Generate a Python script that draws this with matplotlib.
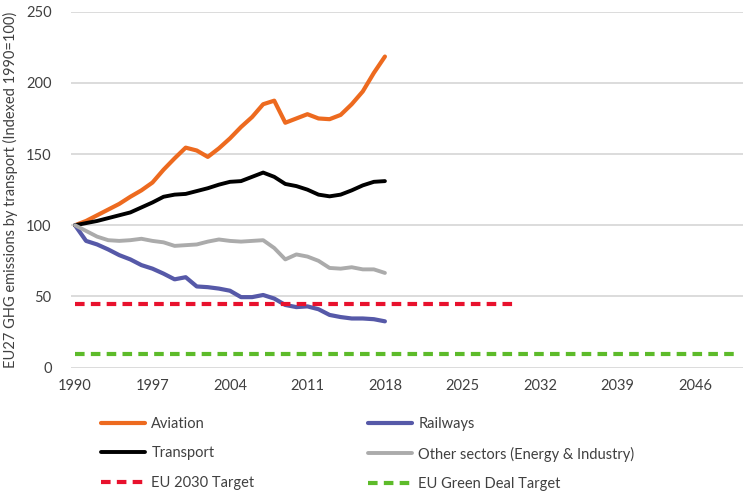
import numpy as np
import matplotlib
matplotlib.use('Agg')
import matplotlib.pyplot as plt

plt.rcParams['font.family'] = ['Lato', 'DejaVu Sans']

years = np.arange(1990, 2019)
aviation = [100, 103, 107, 111, 115, 120, 124.5, 130, 139, 147, 154.5, 152.5, 148, 154,
            161, 169, 176, 185, 187.5, 172, 175, 178, 175, 174.5, 177.5, 185, 194, 207, 218.5]
railways = [100, 89, 86.5, 83, 79, 76, 72, 69.5, 66, 62, 63.5, 57, 56.5, 55.5,
            54, 49.5, 49.5, 51, 48.5, 44, 42.5, 43, 41, 37, 35.5, 34.5, 34.5, 34, 32.5]
transport = [100, 101.5, 103, 105, 107, 109, 112.5, 116, 120, 121.5, 122, 124, 126, 128.5,
             130.5, 131, 134, 137, 134, 129, 127.5, 125, 121.5, 120.3, 121.5, 124.5, 128, 130.5, 131]
other = [100, 96, 92, 89.5, 89, 89.5, 90.5, 89, 88, 85.5, 86, 86.5, 88.5, 90,
         89, 88.5, 89, 89.5, 84, 76, 79.5, 78, 75, 70, 69.5, 70.5, 69, 69, 66.5]

target_2030_years = [1990, 2030]
target_2030 = 44.5
green_deal_years = [1990, 2050]
green_deal = 9.5

xticks = [1990, 1997, 2004, 2011, 2018, 2025, 2032, 2039, 2046]
yticks = [0, 50, 100, 150, 200, 250]

text_col = '#404040'

fig = plt.figure(figsize=(7.5, 4.98), dpi=100)
ax = fig.add_axes([71 / 750, 1 - 367.6 / 498, 672 / 750, (367.6 - 11.7) / 498])

ax.plot(years, aviation, color='#ED6A1F', lw=3, label='Aviation', solid_capstyle='round')
ax.plot(years, railways, color='#5659A8', lw=3, label='Railways', solid_capstyle='round')
ax.plot(years, transport, color='black', lw=2.8, label='Transport', solid_capstyle='round')
ax.plot(years, other, color='#ABABAB', lw=2.8, label='Other sectors (Energy & Industry)',
        solid_capstyle='round')
ax.plot(target_2030_years, [target_2030] * 2, color='#E8112D', lw=3, dashes=(2.3, 1.5),
        label='EU 2030 Target')
ax.plot(green_deal_years, [green_deal] * 2, color='#5DBB2A', lw=3, dashes=(2.3, 1.5),
        label='EU Green Deal Target')

ax.set_xlim(1989.64, 2050.35)
ax.set_ylim(0, 250)
ax.set_xticks(xticks)
ax.set_yticks(yticks)
ax.grid(axis='y', color='#D9D9D9', lw=1.3)
ax.set_axisbelow(True)
for s in ax.spines.values():
    s.set_visible(False)
ax.tick_params(length=0, labelsize=10.5, colors=text_col)
ax.tick_params(axis='y', pad=14)
ax.tick_params(axis='x', pad=8)
ax.set_ylabel('EU27 GHG emissions by transport (Indexed 1990=100)', fontsize=10.5,
              color=text_col, labelpad=6)

h = ax.get_lines()
leg_kw = dict(frameon=False, handlelength=3.0, handletextpad=0.45, labelspacing=1.05,
              fontsize=10.5, labelcolor=text_col, loc='upper left')
leg1 = fig.legend([h[0], h[2], h[4]], ['Aviation', 'Transport', 'EU 2030 Target'],
                  bbox_to_anchor=(88 / 750, 1 - 404 / 498), **leg_kw)
leg2 = fig.legend([h[1], h[3], h[5]],
                  ['Railways', 'Other sectors (Energy & Industry)', 'EU Green Deal Target'],
                  bbox_to_anchor=(355 / 750, 1 - 404 / 498), **leg_kw)

fig.savefig('out.png', dpi=100)
